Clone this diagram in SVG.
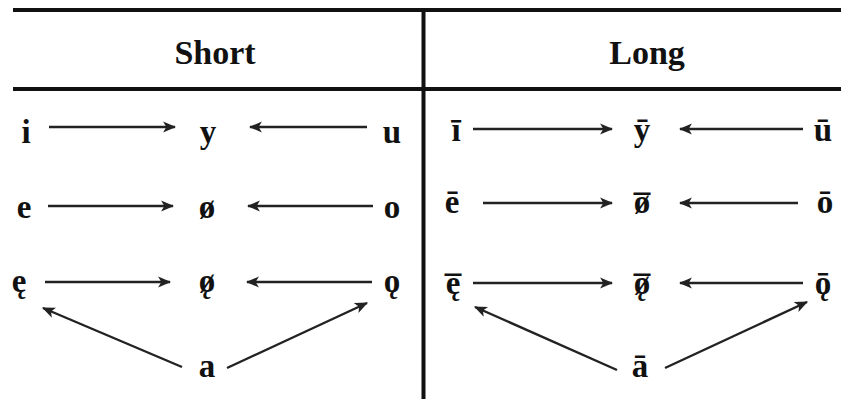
<svg xmlns="http://www.w3.org/2000/svg" width="841" height="399" viewBox="0 0 841 399">
<defs>
<style>
.t{font-family:"Liberation Serif","Times New Roman",serif;font-weight:bold;fill:#111;text-anchor:middle}
.h{font-size:34px}
.v{font-size:33px}
.rule{stroke:#111;stroke-width:4;fill:none}
.c{stroke:#222;stroke-width:2.4;fill:none;marker-end:url(#ah)}
</style>
<marker id="ah" markerWidth="13" markerHeight="12" refX="11" refY="5" orient="auto" markerUnits="userSpaceOnUse" viewBox="0 0 12 10">
<path d="M0,0 L12,5 L0,10 L3,5 z" fill="#222"/>
</marker>
</defs>
<rect width="841" height="399" fill="#fff"/>
<g id="table">
<line class="rule" x1="13" y1="10" x2="841" y2="10"/>
<line class="rule" x1="13" y1="89" x2="841" y2="89"/>
<line class="rule" x1="423.5" y1="8" x2="423.5" y2="399"/>
</g>
<g id="header-short"><text class="t h" x="215" y="64">Short</text></g>
<g id="header-long"><text class="t h" x="647" y="64">Long</text></g>
<g id="connectors">
<line class="c" x1="49" y1="127" x2="175" y2="127"/>
<line class="c" x1="367" y1="127" x2="250" y2="127"/>
<line class="c" x1="48" y1="206" x2="173" y2="206"/>
<line class="c" x1="373" y1="206" x2="248" y2="206"/>
<line class="c" x1="45" y1="282" x2="170" y2="282"/>
<line class="c" x1="372" y1="282" x2="247" y2="282"/>
<line class="c" x1="182" y1="367" x2="43" y2="308"/>
<line class="c" x1="227" y1="368" x2="367" y2="303"/>
<line class="c" x1="473" y1="129" x2="612" y2="129"/>
<line class="c" x1="803" y1="129" x2="680" y2="129"/>
<line class="c" x1="483" y1="203" x2="612" y2="203"/>
<line class="c" x1="798" y1="203" x2="680" y2="203"/>
<line class="c" x1="473" y1="283" x2="612" y2="283"/>
<line class="c" x1="803" y1="283" x2="680" y2="283"/>
<line class="c" x1="617" y1="370" x2="475" y2="307"/>
<line class="c" x1="665" y1="368" x2="807" y2="302"/>
</g>
<g id="n-i"><text class="t v" x="26" y="143">i</text></g>
<g id="n-y"><text class="t v" x="208" y="143">y</text></g>
<g id="n-u"><text class="t v" x="392" y="143">u</text></g>
<g id="n-e"><text class="t v" x="24" y="218">e</text></g>
<g id="n-oslash"><text class="t v" x="207" y="218">ø</text></g>
<g id="n-o"><text class="t v" x="392" y="218">o</text></g>
<g id="n-e-ogonek"><text class="t v" x="19" y="292">ę</text></g>
<g id="n-oslash-ogonek"><text class="t v" x="207" y="292">ø<tspan x="207" y="292">˛</tspan></text></g>
<g id="n-o-ogonek"><text class="t v" x="392" y="292">ǫ</text></g>
<g id="n-a"><text class="t v" x="207" y="377">a</text></g>
<g id="n-i-long"><text class="t v" x="456" y="141">ī</text></g>
<g id="n-y-long"><text class="t v" x="642" y="141">ȳ</text></g>
<g id="n-u-long"><text class="t v" x="823" y="141">ū</text></g>
<g id="n-e-long"><text class="t v" x="452" y="213">ē</text></g>
<g id="n-oslash-long"><text class="t v" x="642" y="213">ø<tspan x="642" y="218">¯</tspan></text></g>
<g id="n-o-long"><text class="t v" x="825" y="213">ō</text></g>
<g id="n-e-ogonek-long"><text class="t v" x="453" y="294">ę<tspan x="453" y="299">¯</tspan></text></g>
<g id="n-oslash-ogonek-long"><text class="t v" x="642" y="294">ø<tspan x="642" y="294">˛</tspan><tspan x="642" y="299">¯</tspan></text></g>
<g id="n-o-ogonek-long"><text class="t v" x="823" y="294">ǭ</text></g>
<g id="n-a-long"><text class="t v" x="640" y="377">ā</text></g>
</svg>
